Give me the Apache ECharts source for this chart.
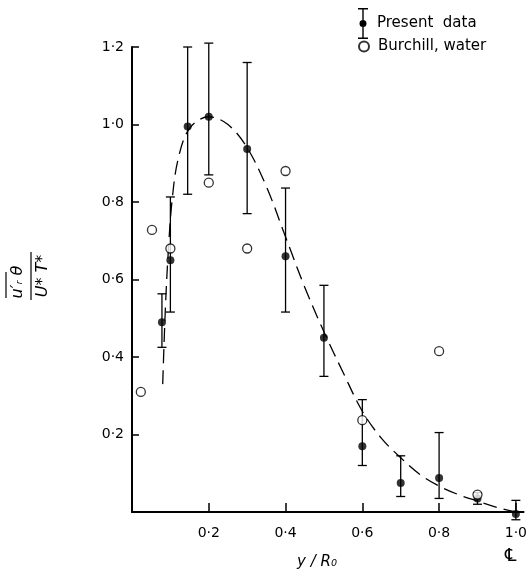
<!DOCTYPE html>
<html>
<head>
<meta charset="utf-8">
<script src="https://cdn.jsdelivr.net/npm/echarts@6/dist/echarts.min.js"></script>
<style>
html,body{margin:0;padding:0;background:#fff;}
#main{width:530px;height:573px;}
</style>
</head>
<body>
<div id="main"></div>
<script>
var chart = echarts.init(document.getElementById('main'));

// present data: position, mean, error bar low / high
var presentX = [0.078, 0.10, 0.145, 0.20, 0.30, 0.40, 0.50, 0.60, 0.70, 0.80, 0.90, 1.00];
var presentY = [0.49, 0.65, 0.995, 1.02, 0.937, 0.66, 0.45, 0.17, 0.075, 0.088, 0.035, -0.005];
var presentLow = [0.425, 0.516, 0.82, 0.87, 0.77, 0.516, 0.35, 0.12, 0.04, 0.035, 0.02, -0.02];
var presentHigh = [0.563, 0.813, 1.2, 1.21, 1.16, 0.836, 0.585, 0.29, 0.145, 0.205, 0.05, 0.03];

// Burchill, water (open circles)
var burchillX = [0.023, 0.052, 0.10, 0.20, 0.30, 0.40, 0.60, 0.80, 0.90];
var burchillY = [0.31, 0.728, 0.68, 0.85, 0.68, 0.88, 0.237, 0.415, 0.045];

// dashed fitted curve
var curveX = [0.08, 0.083, 0.088, 0.095, 0.104, 0.12, 0.15, 0.2, 0.25, 0.3, 0.35, 0.4, 0.45, 0.5, 0.55, 0.6, 0.65, 0.7, 0.75, 0.8, 0.85, 0.9, 0.95, 1.0];
var curveY = [0.33, 0.42, 0.55, 0.68, 0.8, 0.91, 0.99, 1.02, 1.0, 0.94, 0.84, 0.71, 0.58, 0.465, 0.36, 0.26, 0.19, 0.14, 0.097, 0.067, 0.045, 0.028, 0.012, 0.0];

var xTicks = [0.2, 0.4, 0.6, 0.8, 1.0];
var yTicks = [0.2, 0.4, 0.6, 0.8, 1.0, 1.2];

function fmt(v) {
    return v.toFixed(1).replace('.', '·');
}

var errData = [], presentData = [], burchillData = [], curveData = [];
for (var i = 0; i < presentX.length; i++) {
    errData.push([presentX[i], presentLow[i], presentHigh[i]]);
    presentData.push([presentX[i], presentY[i]]);
}
for (var j = 0; j < burchillX.length; j++) {
    burchillData.push([burchillX[j], burchillY[j]]);
}
for (var k = 0; k < curveX.length; k++) {
    curveData.push([curveX[k], curveY[k]]);
}

var font = '"DejaVu Sans", sans-serif';
var ink = '#000';

var option = {
    animation: false,
    backgroundColor: '#fff',
    grid: { left: 132, right: 5, top: 47, bottom: 61 },
    legend: [{
        orient: 'vertical',
        left: 358, top: 8, padding: 0,
        itemWidth: 10, itemHeight: 31,
        data: [{
            name: 'Present  data',
            // error bar with a dot, as in the key of the original
            icon: 'path://M0,0H10V1.6H5.7V12.2H4.3V1.6H0Z M4.3,18.8H5.7V29.4H10V31H0V29.4H4.3Z M5,12A3.5,3.5 0 1 1 5,19A3.5,3.5 0 1 1 5,12Z'
        }],
        textStyle: { fontFamily: font, fontSize: 15, color: ink, padding: [0, 0, 0, 4] }
    }, {
        orient: 'vertical',
        left: 358, top: 39, padding: 0,
        itemWidth: 10, itemHeight: 10,
        data: ['Burchill, water'],
        textStyle: { fontFamily: font, fontSize: 15, color: ink, padding: [0, 0, 0, 4] }
    }],
    xAxis: {
        type: 'value', min: 0, max: 1.02, interval: 0.2,
        splitLine: { show: false },
        axisLine: { onZero: false, lineStyle: { color: ink, width: 2 } },
        axisTick: { inside: true, length: 9, customValues: xTicks, lineStyle: { color: ink, width: 1.5 } },
        axisLabel: {
            margin: 14, fontFamily: font, fontSize: 14, color: ink,
            customValues: xTicks,
            formatter: function (v) { return fmt(v); }
        }
    },
    yAxis: {
        type: 'value', min: 0, max: 1.2, interval: 0.2,
        splitLine: { show: false },
        axisLine: { onZero: false, lineStyle: { color: ink, width: 2 } },
        axisTick: { inside: true, length: 7, customValues: yTicks, lineStyle: { color: ink, width: 1.5 } },
        axisLabel: {
            margin: 8, fontFamily: font, fontSize: 14, color: ink,
            customValues: yTicks,
            formatter: function (v) { return fmt(v); }
        }
    },
    graphic: [{
        type: 'group',
        x: 28, y: 276,
        rotation: Math.PI / 2,
        children: [
            { type: 'line', shape: { x1: -22, y1: -22, x2: 4, y2: -22 }, style: { stroke: ink, lineWidth: 1.2 } },
            { type: 'text', x: -6, y: -10, style: { text: 'u′ᵣ θ', font: 'italic 16px ' + font, fill: ink, align: 'center', verticalAlign: 'middle' } },
            { type: 'line', shape: { x1: -24, y1: 3, x2: 24, y2: 3 }, style: { stroke: ink, lineWidth: 1.2 } },
            { type: 'text', x: 0, y: 15, style: { text: 'U* T*', font: 'italic 16px ' + font, fill: ink, align: 'center', verticalAlign: 'middle' } }
        ]
    }, {
        type: 'text', left: 297, top: 555,
        style: { text: 'y / R₀', font: 'italic 15px ' + font, fill: ink }
    }, {
        type: 'text', left: 505, top: 547,
        style: { text: '℄', font: '18px ' + font, fill: ink }
    }],
    series: [{
        name: 'fit',
        type: 'line',
        data: curveData,
        smooth: 0.35,
        showSymbol: false,
        silent: true,
        lineStyle: { color: ink, width: 1.3, type: [14, 7] },
        z: 1
    }, {
        name: 'Present  data',
        type: 'custom',
        clip: false,
        data: errData,
        renderItem: function (params, api) {
            var top = api.coord([api.value(0), api.value(2)]);
            var bot = api.coord([api.value(0), api.value(1)]);
            var w = 4.5;
            var st = { stroke: ink, lineWidth: 1.3 };
            return {
                type: 'group',
                children: [
                    { type: 'line', shape: { x1: top[0], y1: top[1], x2: bot[0], y2: bot[1] }, style: st },
                    { type: 'line', shape: { x1: top[0] - w, y1: top[1], x2: top[0] + w, y2: top[1] }, style: st },
                    { type: 'line', shape: { x1: bot[0] - w, y1: bot[1], x2: bot[0] + w, y2: bot[1] }, style: st }
                ]
            };
        },
        itemStyle: { color: ink },
        z: 2
    }, {
        name: 'Present  data',
        type: 'scatter',
        clip: false,
        data: presentData,
        symbol: 'circle',
        symbolSize: 8,
        itemStyle: { color: ink },
        z: 3
    }, {
        name: 'Burchill, water',
        type: 'scatter',
        clip: false,
        data: burchillData,
        symbol: 'circle',
        symbolSize: 9,
        itemStyle: { color: '#fff', borderColor: ink, borderWidth: 1.3 },
        z: 3
    }]
};
chart.setOption(option);
</script>
</body>
</html>
